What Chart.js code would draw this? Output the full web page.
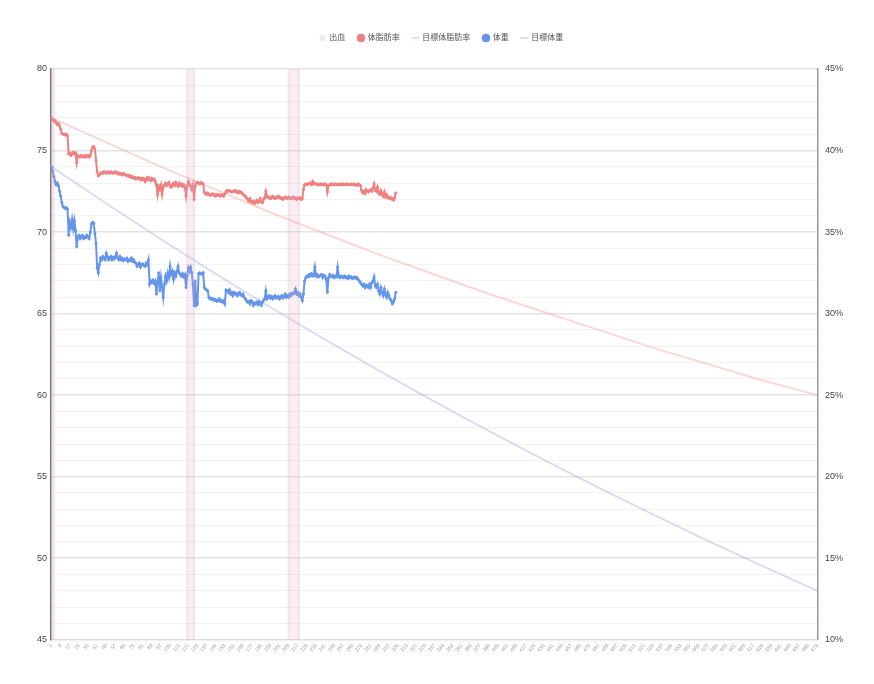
<!DOCTYPE html>
<html>
<head>
<meta charset="utf-8">
<script src="https://cdn.jsdelivr.net/npm/chart.js@4.4.1/dist/chart.umd.min.js"></script>
<style>
  html, body { margin: 0; padding: 0; background: #fff; }
  #wrap { width: 874px; height: 684px; }
</style>
</head>
<body>
<div id="wrap"><canvas id="bodyChart" width="874" height="684"></canvas></div>
<script>
// day numbers on the x axis run 1..673
const dayCount = 673;

// bleeding days (出血)
const bleedingDays = [1, 2, 3, 120, 121, 122, 123, 124, 125, 126,
  209, 210, 211, 212, 213, 214, 215, 216, 217, 218];

// body fat % (体脂肪率), one value per day from day 1
const fatValues = [
  42.0, 41.9, 41.8, 41.85, 41.7, 41.6, 41.65, 41.5, 41.3, 41.05,
  41.0, 41.0, 40.95, 41.0, 40.9, 39.8, 39.85, 39.7, 39.8, 39.9,
  39.8, 39.85, 39.25, 39.7, 39.65, 39.6, 39.7, 39.65, 39.6, 39.7,
  39.6, 39.65, 39.7, 39.6, 39.7, 40.0, 40.2, 40.25, 40.1, 39.4,
  38.7, 38.45, 38.5, 38.6, 38.65, 38.6, 38.7, 38.65, 38.6, 38.7,
  38.65, 38.6, 38.7, 38.65, 38.6, 38.65, 38.7, 38.6, 38.65, 38.55,
  38.6, 38.55, 38.5, 38.6, 38.55, 38.5, 38.45, 38.5, 38.4, 38.45,
  38.35, 38.4, 38.3, 38.35, 38.25, 38.3, 38.35, 38.25, 38.3, 38.2,
  38.3, 38.25, 38.1, 38.3, 38.2, 38.35, 38.25, 38.15, 38.3, 38.2,
  38.25, 38.1, 37.9, 37.3, 37.8, 37.6, 37.9, 37.3, 37.75, 37.9,
  38.0, 37.85, 37.95, 38.05, 37.8, 37.75, 37.9, 38.0, 37.85, 38.05,
  37.9, 37.8, 38.0, 37.85, 37.95, 37.8, 37.9, 37.75, 37.2, 37.85,
  38.1, 37.95, 37.8, 37.6, 37.9, 37.0, 37.8, 38.0, 38.05, 38.0,
  37.95, 38.05, 38.0, 37.95, 37.45, 37.35, 37.3, 37.4, 37.3, 37.25,
  37.3, 37.35, 37.25, 37.3, 37.2, 37.3, 37.25, 37.3, 37.2, 37.25,
  37.3, 37.2, 37.35, 37.45, 37.55, 37.5, 37.55, 37.5, 37.45, 37.5,
  37.5, 37.55, 37.45, 37.5, 37.4, 37.5, 37.45, 37.4, 37.3, 37.25,
  37.2, 37.1, 37.0, 36.9, 37.05, 36.85, 36.8, 36.9, 36.75, 36.85,
  36.95, 36.8, 36.9, 37.05, 36.85, 36.8, 37.0, 37.1, 37.5, 37.2,
  37.1, 37.15, 37.05, 37.1, 37.2, 37.1, 37.05, 37.15, 37.1, 37.2,
  37.15, 37.05, 37.1, 37.0, 37.05, 37.15, 37.1, 37.05, 37.15, 37.1,
  37.05, 37.1, 37.15, 37.05, 37.1, 37.0, 37.1, 37.05, 37.1, 37.0,
  37.05, 37.6, 37.9, 37.95, 37.9, 37.95, 38.0, 37.95, 37.9, 38.1,
  37.95, 38.0, 37.95, 37.9, 37.95, 37.9, 37.95, 37.9, 37.95, 37.9,
  37.95, 37.9, 37.45, 37.85, 37.9, 37.95, 37.9, 37.95, 37.9, 37.95,
  37.9, 37.95, 37.9, 37.9, 37.95, 37.9, 37.95, 37.9, 37.95, 37.9,
  37.95, 37.9, 37.9, 37.95, 37.9, 37.95, 37.9, 37.9, 37.85, 37.95,
  37.9, 37.85, 37.55, 37.4, 37.5, 37.35, 37.6, 37.5, 37.45, 37.55,
  37.6, 37.5, 37.7, 37.95, 37.55, 37.5, 37.75, 37.4, 37.3, 37.55,
  37.35, 37.2, 37.45, 37.15, 37.3, 37.1, 37.15, 37.05, 37.1, 37.0,
  36.95, 37.1, 37.4
];

// weight kg (体重), one value per day from day 1
const weightValues = [
  74.0, 73.7, 73.4, 73.1, 72.9, 73.0, 72.85, 72.5, 72.2, 71.8,
  71.55, 71.5, 71.45, 71.5, 71.4, 69.8, 70.6, 70.3, 70.8, 70.2,
  70.7, 70.1, 69.1, 69.7, 69.8, 69.6, 69.75, 69.8, 69.6, 69.7,
  69.65, 69.8, 69.7, 69.6, 70.0, 70.5, 70.6, 70.55, 69.9, 69.3,
  67.8, 67.5, 68.0, 68.4, 68.3, 68.5, 68.4, 68.3, 68.7, 68.5,
  68.3, 68.4, 68.5, 68.3, 68.45, 68.35, 68.5, 68.7, 68.4, 68.3,
  68.5, 68.3, 68.4, 68.25, 68.35, 68.3, 68.4, 68.2, 68.3, 68.25,
  68.4, 68.2, 68.3, 68.15, 68.1, 67.9, 68.0, 68.1, 67.85, 68.0,
  68.05, 67.95, 67.9, 68.1, 68.0, 68.3, 66.8, 67.0, 66.9, 67.05,
  66.85, 67.0, 66.2, 66.9, 67.5, 66.4, 67.2, 66.6, 66.0, 66.8,
  67.3, 67.0, 67.5, 67.2, 67.9, 67.4, 67.6, 67.1, 67.5, 67.3,
  67.6, 67.9, 67.5, 67.4, 67.3, 67.45, 67.25, 67.4, 66.6, 67.3,
  67.8, 67.6, 67.85, 67.5, 66.8, 65.5, 67.0, 65.5, 65.6, 67.45,
  67.5, 67.45, 67.4, 67.5, 66.6, 66.5, 66.45, 66.4, 66.0, 65.9,
  65.95, 65.85, 65.9, 65.8, 65.85, 65.75, 65.8, 65.9, 65.75, 65.8,
  65.7, 65.8, 65.6, 66.45, 66.4, 66.3, 66.45, 66.2, 66.3, 66.1,
  66.3, 66.2, 66.25, 66.1, 66.2, 66.3, 66.15, 66.1, 66.2, 66.0,
  65.9, 65.8, 65.7, 65.75, 65.6, 65.8, 65.7, 65.5, 65.65, 65.6,
  65.7, 65.55, 65.75, 65.6, 65.5, 65.7, 65.8, 65.9, 66.4, 65.9,
  66.0, 66.1, 65.95, 66.05, 65.9, 66.0, 66.1, 65.95, 66.0, 66.05,
  65.9, 66.0, 66.1, 65.95, 66.05, 66.2, 66.0, 66.1, 66.0, 66.2,
  66.1, 66.25, 66.2, 66.3, 66.5, 66.2, 66.3, 66.1, 66.2, 66.0,
  65.8, 66.2, 67.0, 67.2, 67.3, 67.25, 67.4, 67.3, 67.45, 67.3,
  67.35, 67.85, 67.3, 67.4, 67.25, 67.3, 67.35, 67.4, 67.2, 67.35,
  67.3, 67.1, 66.3, 67.2, 67.4, 67.3, 67.25, 67.35, 67.2, 67.3,
  67.25, 67.85, 67.3, 67.2, 67.3, 67.25, 67.2, 67.3, 67.2, 67.25,
  67.15, 67.3, 67.2, 67.25, 67.15, 67.2, 67.25, 67.15, 67.2, 67.1,
  67.0, 66.9, 66.8, 66.7, 66.8, 66.6, 66.75, 66.7, 66.6, 66.8,
  66.6, 66.9, 67.0, 67.25, 66.7, 66.6, 66.8, 66.4, 66.2, 66.6,
  66.3, 66.1, 66.5, 66.2, 66.0, 66.3, 66.1, 65.9, 65.8, 65.6,
  65.7, 65.9, 66.3
];

// target curves at every 48th day
const targetDays = [1, 49, 97, 145, 193, 241, 289, 337, 385, 433, 481, 529, 577, 625, 673];
const targetFat = [42.0, 40.5, 39.0, 37.6, 36.2, 34.9, 33.6, 32.4, 31.2, 30.1, 29.0, 27.9, 26.9, 25.9, 25.0];
const targetWeight = [74.0, 71.75, 69.56, 67.44, 65.39, 63.4, 61.47, 59.6, 57.79, 56.03, 54.33, 52.67, 51.06, 49.51, 48.0];

const labels = [];
for (let d = 1; d <= dayCount; d++) labels.push(String(d));

const fontFamily = "'Helvetica Neue', Helvetica, Arial, 'Noto Sans CJK JP', sans-serif";

const bleedSet = new Set(bleedingDays);
function bleedColor(ctx) {
  const d = ctx.raw ? Number(ctx.raw.x) : 0;
  const edge = !bleedSet.has(d - 1) || !bleedSet.has(d + 1);
  return edge ? "rgba(215, 150, 180, 0.25)" : "rgba(225, 170, 195, 0.14)";
}

// push the plot down under the legend
const legendGap = {
  id: "legendGap",
  beforeInit(chart) {
    const fit = chart.legend.fit;
    chart.legend.fit = function () {
      fit.bind(chart.legend)();
      this.height += 17;
    };
  },
};

const chartData = {
  labels: labels,
  datasets: [
    {
      type: "bar",
      label: "出血",
      data: bleedingDays.map((d) => ({ x: String(d), y: 80 })),
      yAxisID: "y",
      backgroundColor: bleedColor,
      borderWidth: 0,
      barPercentage: 1,
      categoryPercentage: 1,
      pointStyle: "rect",
    },
    {
      label: "体脂肪率",
      data: fatValues,
      yAxisID: "y1",
      borderColor: "rgb(240, 128, 128)",
      backgroundColor: "rgb(240, 128, 128)",
      borderWidth: 2,
      pointRadius: 1.1,
      pointBorderWidth: 1,
      pointHoverRadius: 2,
      pointStyle: "circle",
    },
    {
      label: "目標体脂肪率",
      data: targetDays.map((d, i) => ({ x: String(d), y: targetFat[i] })),
      yAxisID: "y1",
      borderColor: "rgba(245, 140, 140, 0.35)",
      backgroundColor: "rgba(245, 140, 140, 0.35)",
      borderWidth: 2,
      pointRadius: 0,
      spanGaps: true,
      pointStyle: "line",
    },
    {
      label: "体重",
      data: weightValues,
      yAxisID: "y",
      borderColor: "rgb(100, 149, 237)",
      backgroundColor: "rgb(100, 149, 237)",
      borderWidth: 2,
      pointRadius: 1.1,
      pointBorderWidth: 1,
      pointHoverRadius: 2,
      pointStyle: "circle",
    },
    {
      label: "目標体重",
      data: targetDays.map((d, i) => ({ x: String(d), y: targetWeight[i] })),
      yAxisID: "y",
      borderColor: "rgba(130, 140, 215, 0.3)",
      backgroundColor: "rgba(130, 140, 215, 0.3)",
      borderWidth: 2,
      pointRadius: 0,
      spanGaps: true,
      pointStyle: "line",
    },
  ],
};

const chartConfig = {
  type: "line",
  data: chartData,
  options: {
    responsive: false,
    animation: false,
    layout: {
      padding: { top: 21, left: 33, right: 24, bottom: 28 },
    },
    plugins: {
      legend: {
        position: "top",
        labels: {
          usePointStyle: true,
          boxWidth: 5.5,
          boxHeight: 5.5,
          padding: 13,
          color: "#555",
          font: { family: fontFamily, size: 8 },
        },
      },
      tooltip: { enabled: false },
    },
    scales: {
      x: {
        grid: { display: false, drawTicks: false },
        border: { color: "#ddd" },
        ticks: {
          autoSkip: false,
          minRotation: 50,
          maxRotation: 50,
          padding: 3,
          color: "#999",
          font: { family: fontFamily, size: 5 },
          callback: (val, i) => (i % 8 === 0 ? labels[i] : null),
        },
      },
      y: {
        position: "left",
        min: 45,
        max: 80,
        grid: {
          drawTicks: false,
          color: (ctx) => (ctx.tick && ctx.tick.value % 5 === 0 ? "#e4e4e4" : "#f2f2f2"),
          lineWidth: (ctx) => (ctx.tick && ctx.tick.value % 5 === 0 ? 1.5 : 1),
        },
        border: { color: "#777", width: 1.5 },
        ticks: {
          stepSize: 1,
          autoSkip: false,
          padding: 4,
          color: "#444",
          font: { family: fontFamily, size: 9 },
          callback: (v) => (v % 5 === 0 ? v : ""),
        },
      },
      y1: {
        position: "right",
        min: 10,
        max: 45,
        grid: { display: false, drawTicks: false },
        border: { color: "#999", width: 1.5 },
        ticks: {
          stepSize: 5,
          padding: 7,
          color: "#444",
          font: { family: fontFamily, size: 9 },
          callback: (v) => v + "%",
        },
      },
    },
  },
  plugins: [legendGap],
};

const bodyChart = new Chart(document.getElementById("bodyChart").getContext("2d"), chartConfig);
</script>
</body>
</html>
